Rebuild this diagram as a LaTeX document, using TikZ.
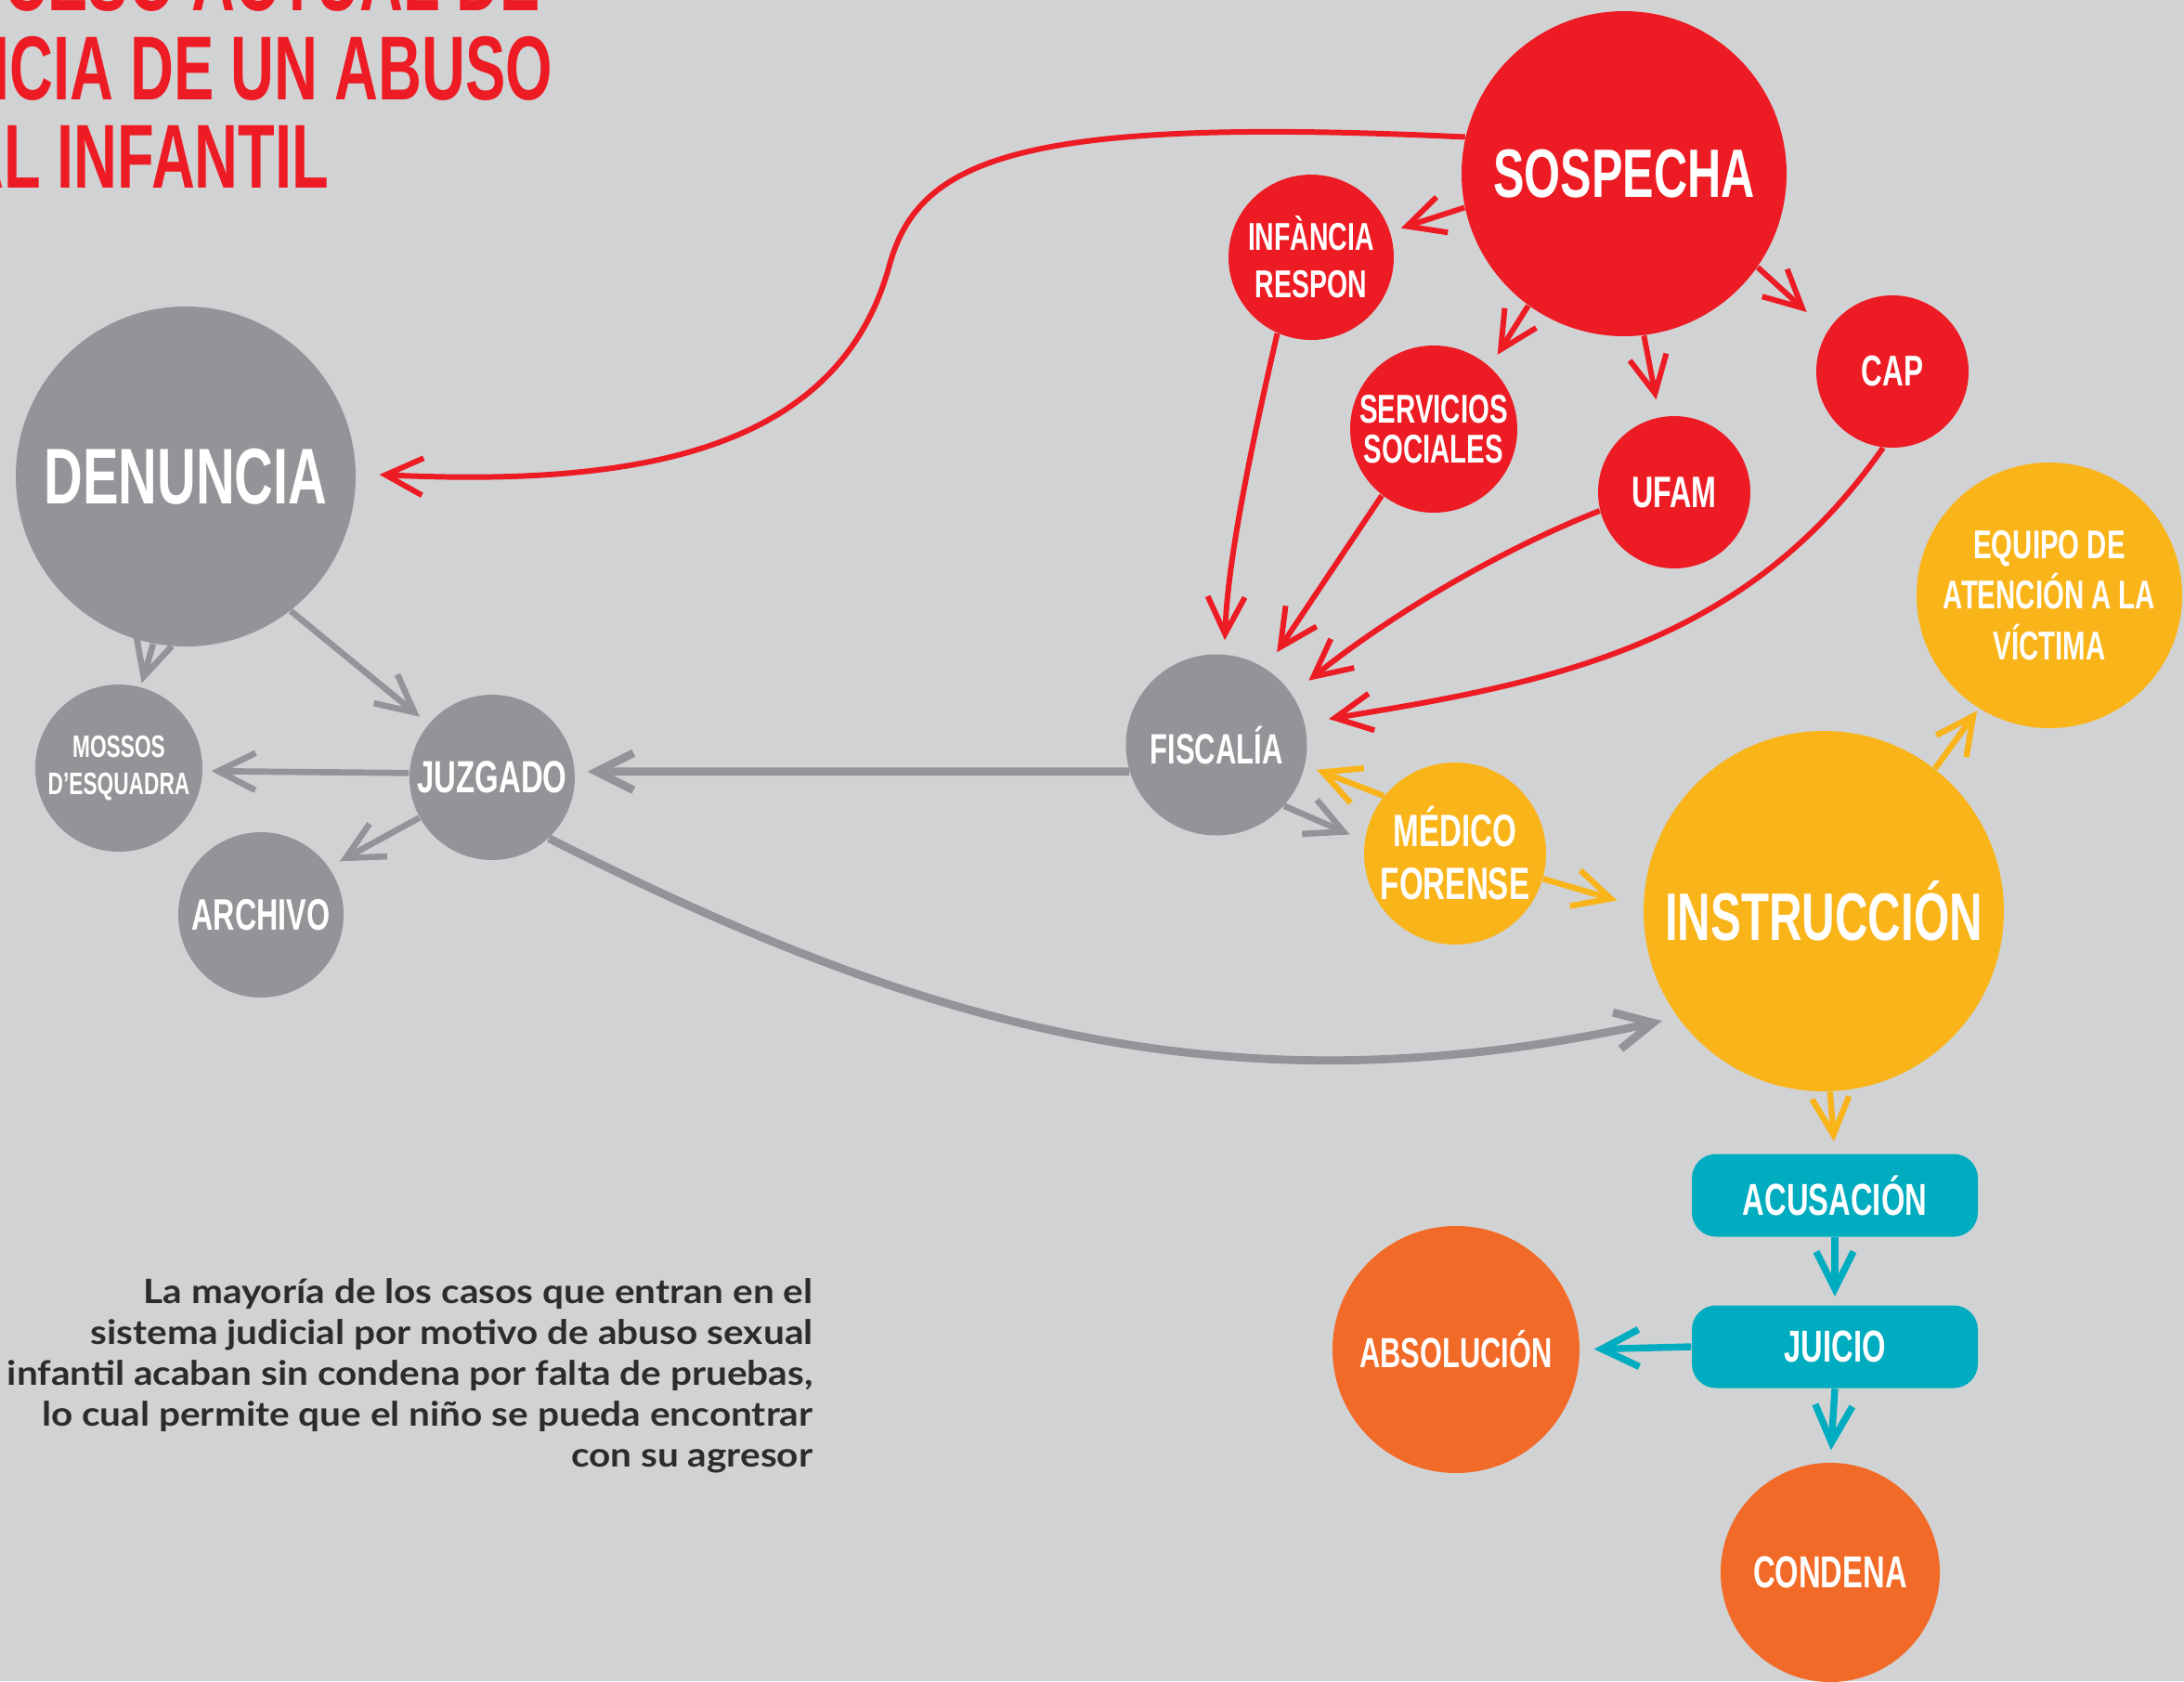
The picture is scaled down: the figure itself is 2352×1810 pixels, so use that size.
\documentclass[tikz,border=0pt]{standalone}
\usepackage{fontspec}
\usetikzlibrary{arrows.meta}
\newfontfamily\labelfont[FakeStretch=0.68]{Liberation Sans}
\newfontfamily\titlefont[FakeStretch=0.665]{Liberation Sans}
\newfontfamily\notefont[FakeStretch=1.12]{Lato}
\newcommand{\lbl}[2]{\labelfont\bfseries\fontsize{#1}{#2}\selectfont}
\definecolor{bgray}{HTML}{D1D2D4}
\definecolor{sred}{HTML}{ED1C24}
\definecolor{sgray}{HTML}{929497}
\definecolor{syellow}{HTML}{F9B41A}
\definecolor{steal}{HTML}{00ACBF}
\definecolor{sorange}{HTML}{F26A27}
\definecolor{snote}{HTML}{2D2C2C}
\begin{document}
\begin{tikzpicture}[x=0.1mm, y=-0.1mm,
>={Straight Barb[length=4mm,width=4mm]},
ball/.style={circle, inner sep=0pt, text=white, align=center},
redball/.style={ball, fill=sred},
grayball/.style={ball, fill=sgray},
yellowball/.style={ball, fill=syellow},
orangeball/.style={ball, fill=sorange},
tealbox/.style={rectangle, rounded corners=2.6mm, fill=steal, text=white, minimum width=30.8mm, minimum height=8.9mm, font=\lbl{13.7}{16}},
redarrow/.style={->, draw=sred, line width=1.7pt, shorten >=1.5mm},
grayarrow/.style={->, draw=sgray, line width=1.9pt, shorten >=1.3mm},
yellowarrow/.style={->, draw=syellow, line width=1.8pt, shorten >=1.3mm},
tealarrow/.style={->, draw=steal, line width=2.1pt, shorten >=1.2mm},
title/.style={anchor=base east, inner sep=0pt, text=sred, font=\titlefont\bfseries\fontsize{27.8}{30}\selectfont},
]
\useasboundingbox (0,0) rectangle (2352,1810);
\fill[bgray] (0,0) rectangle (2352,1810);
\clip (0,0) rectangle (2352,1810);

% title
\node[title] (t1) at (583,11) {PROCESO ACTUAL DE};
\node[title] (t2) at (596,107) {DENUNCIA DE UN ABUSO};
\node[title] (t3) at (355,202) {SEXUAL INFANTIL};

% nodes
\node[redball, minimum size=35mm, font=\lbl{21}{24}] (sosp) at (1749,187) {SOSPECHA};
\node[redball, minimum size=17.8mm, font=\lbl{11.9}{14.5}] (infan) at (1412,277) {INFÀNCIA\\RESPON};
\node[redball, minimum size=18mm, font=\lbl{12.3}{12.3}] (serv) at (1544,462) {SERVICIOS\\SOCIALES};
\node[redball, minimum size=16.4mm, font=\lbl{13.5}{15}] (ufam) at (1803,530) {UFAM};
\node[redball, minimum size=16.4mm, font=\lbl{13.2}{15}] (cap) at (2038,400) {CAP};
\node[yellowball, minimum size=28.6mm, font=\lbl{12.3}{15.4}] (equipo) at (2207,641) {EQUIPO DE\\ATENCIÓN A LA\\VÍCTIMA};
\node[grayball, minimum size=19.5mm, font=\lbl{13}{15}] (fisc) at (1310,802) {FISCALÍA};
\node[yellowball, minimum size=19.6mm, font=\lbl{13.9}{16.2}] (medico) at (1567,919) {MÉDICO\\FORENSE};
\node[yellowball, minimum size=38.8mm, font=\lbl{20.6}{23}] (instr) at (1964,981) {INSTRUCCIÓN};
\node[tealbox] (acus) at (1976,1287) {ACUSACIÓN};
\node[tealbox] (juicio) at (1976,1450) {JUICIO};
\node[orangeball, minimum size=26.6mm, font=\lbl{12.9}{15}] (absol) at (1568,1453) {ABSOLUCIÓN};
\node[orangeball, minimum size=23.6mm, font=\lbl{13.7}{16}] (condena) at (1971,1693) {CONDENA};
\node[grayball, minimum size=36.6mm, font=\lbl{24.2}{27}] (denuncia) at (200,513) {DENUNCIA};
\node[grayball, minimum size=18mm, font=\lbl{9.5}{11.4}] (mossos) at (128,827) {MOSSOS\\D’ESQUADRA};
\node[grayball, minimum size=17.8mm, font=\lbl{13.8}{16}] (juzgado) at (530,837) {JUZGADO};
\node[grayball, minimum size=17.8mm, font=\lbl{13.5}{16}] (archivo) at (281,985) {ARCHIVO};

% note
\node[anchor=base east, align=right, inner sep=0pt, text=snote, font=\notefont\bfseries\fontsize{10.3}{12.5}\selectfont] (note) at (876,1579)
{La mayoría de los casos que entran en el\\sistema judicial por motivo de abuso sexual\\infantil acaban sin condena por falta de pruebas,\\lo cual permite que el niño se pueda encontrar\\con su agresor};

% red arrows
\coordinate (turn) at (958,285);
\draw[redarrow, shorten >=2.5mm] (sosp.167) .. controls (1100,125) and (990,170) .. (turn) .. controls (905,480) and (700,525) .. (denuncia.1);
\draw[redarrow, shorten >=1.2mm] (sosp.192) -- (infan.18);
\draw[redarrow] (sosp.234) -- (serv.48);
\draw[redarrow, shorten >=1.9mm] (sosp.277) -- (ufam.101);
\draw[redarrow, shorten >=3mm] (sosp.325) -- (cap.148);
\draw[redarrow] (infan.246) .. controls (1350,470) and (1322,600) .. (fisc.85);
\draw[redarrow, shorten >=2.1mm] (serv.232) -- (fisc.57);
\draw[redarrow, shorten >=2.3mm] (ufam.194) .. controls (1620,590) and (1500,660) .. (fisc.34);
\draw[redarrow, shorten >=2.6mm] (cap.263) .. controls (1879,696) and (1670,735) .. (fisc.14);

% gray arrows
\draw[grayarrow, line width=2.5pt] (fisc.197) -- (juzgado.4);
\draw[grayarrow, shorten >=0.9mm] (juzgado.177) -- (mossos.358);
\draw[grayarrow] (juzgado.209) -- (archivo.35);
\draw[grayarrow, shorten >=0.4mm] (denuncia.259) -- (mossos.75);
\draw[grayarrow, shorten >=1.2mm] (denuncia.308) -- (juzgado.140);
\draw[grayarrow, line width=2.5pt, shorten >=1.7mm] (juzgado.313) .. controls (1000,1110) and (1330,1200) .. (instr.216);
\draw[grayarrow, shorten >=1.7mm] (fisc.318) -- (medico.172);

% yellow arrows
\draw[yellowarrow] (medico.141) -- (fisc.347);
\draw[yellowarrow, shorten >=2.9mm] (medico.344) -- (instr.179);
\draw[yellowarrow, shorten >=0.3mm] (instr.52) -- (equipo.238);
\draw[yellowarrow] (instr.272) -- (acus.north);

% teal arrows
\draw[tealarrow, shorten >=0.9mm] (acus.south) -- (juicio.north);
\draw[tealarrow, shorten >=1.5mm] (juicio.west) -- (absol.east);
\draw[tealarrow, shorten >=1.3mm] (juicio.south) -- (condena.north);
\end{tikzpicture}
\end{document}
